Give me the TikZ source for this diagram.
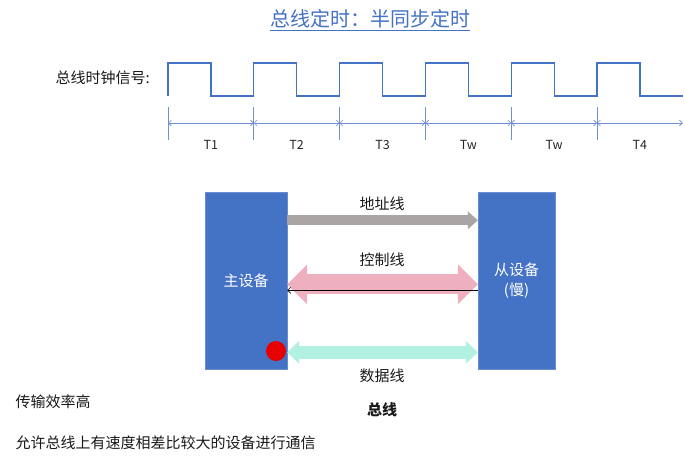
\documentclass[tikz,border=0pt]{standalone}
\usepackage{fontspec}
\setmainfont{Noto Sans CJK SC}
\usetikzlibrary{arrows.meta, positioning, calc}
\definecolor{busblue}{HTML}{4472C4}
\definecolor{tickblue}{HTML}{6F8FCF}
\definecolor{addrgray}{HTML}{A9A5A4}
\definecolor{ctrlpink}{HTML}{EEB0BF}
\definecolor{datacyan}{HTML}{B2F0E2}
\definecolor{dotred}{HTML}{E60000}

\begin{document}
\begin{tikzpicture}[x=1pt, y=-1pt,
  txt/.style={font=\fontsize{15}{18}\selectfont, text=black!90},
  small/.style={font=\fontsize{12.5}{15}\selectfont, text=black!85},
  dev/.style={draw=busblue!80!white, fill=busblue, minimum height=177pt,
    inner sep=0pt, font=\fontsize{15}{20}\selectfont, text=white, align=center},
  clk/.style={busblue, line width=1.3pt},
  tickline/.style={tickblue, line width=0.8pt},
  span/.style={tickblue, line width=0.6pt}]
\useasboundingbox (0,0) rectangle (685,458);

% Title
\node[font=\fontsize{20}{24}\selectfont, text=busblue] (title) at (370,20)
  {\underline{总线定时：半同步定时}};

% Clock
\node[txt, anchor=east, inner sep=0pt] (clklabel) at (150,78) {总线时钟信号:};
\draw[clk] (168,96) \foreach \i in {0,...,5} {
  -- ++(0,-33) -- ++(43,0) -- ++(0,33) -- ++(42.8,0) };

% Periods
\foreach \i in {0,...,6}
  \coordinate (k\i) at (168+85.8*\i,123);
\foreach \i in {0,...,5}
  \draw[tickline] (k\i) ++(0,-16) -- ++(0,33);
\foreach \i/\j in {0/1,1/2,2/3,3/4,4/5}
  \draw[span, {Straight Barb[length=3pt,width=6pt]}-{Straight Barb[length=3pt,width=6pt]}] (k\i) -- (k\j);
\draw[span, {Straight Barb[length=3pt,width=6pt]}-{Straight Barb[length=3pt,width=6pt]}] (k5) -- (k6);
\foreach \i/\j/\t in {0/1/T1,1/2/T2,2/3/T3,3/4/Tw,4/5/Tw,5/6/T4}
  \node[small] (lab\i) at ($(k\i)!0.5!(k\j)+(0,22)$) {\t};

% Devices
\node[dev, minimum width=82pt] (master) at (246,281) {主设备};
\node[dev, minimum width=77pt] (slave) at (516.5,281) {从设备\\(慢)};

% Bus lines
\draw[addrgray, line width=10pt, -{Triangle[width=18pt,length=10pt,line width=0pt]}]
  ([yshift=-28pt]master.north east) -- ([yshift=-28pt]slave.north west);
\node[txt] (addr) at (382,204) {地址线};

\draw[ctrlpink, line width=20pt,
  {Triangle[width=40pt,length=20pt,line width=0pt]}-{Triangle[width=40pt,length=20pt,line width=0pt]}]
  ([yshift=-92pt]master.north east) -- ([yshift=-92pt]slave.north west);
\node[txt] (ctrl) at (382,260) {控制线};
\draw[black, line width=0.7pt, -{Straight Barb[length=3pt,width=6pt]}]
  ([yshift=-98pt]slave.north west) -- ([yshift=-98pt]master.north east);

\draw[datacyan, line width=13pt,
  {Triangle[width=23pt,length=12pt,line width=0pt]}-{Triangle[width=23pt,length=12pt,line width=0pt]}]
  ([yshift=-160pt]master.north east) -- ([yshift=-160pt]slave.north west);
\node[txt] (data) at (382,376) {数据线};
\node[circle, fill=dotred, minimum size=20pt, inner sep=0pt] (dot) at (276,351) {};

\node[txt, font=\fontsize{15}{18}\bfseries] (bus) at (382,410) {总线};

% Notes
\node[txt, anchor=west] (note1) at (12,402) {传输效率高};
\node[txt, anchor=west] (note2) at (12,443) {允许总线上有速度相差比较大的设备进行通信};
\end{tikzpicture}
\end{document}
